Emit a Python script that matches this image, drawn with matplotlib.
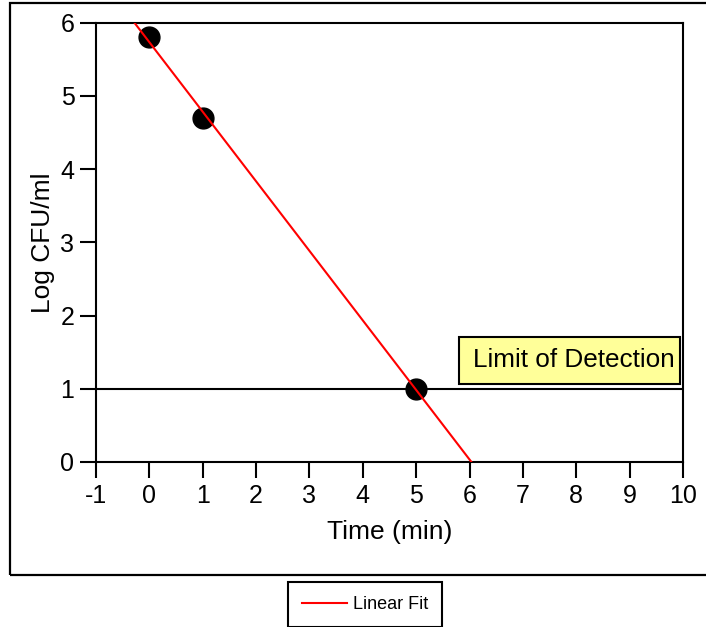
import matplotlib.pyplot as plt
import numpy as np
from matplotlib.patches import Rectangle

plt.rcParams['font.family'] = ['Liberation Sans', 'DejaVu Sans']
plt.rcParams['axes.unicode_minus'] = False

time = [0, 1, 5]
log_cfu = [5.8, 4.7, 1.0]
detection_limit = 1.0
x_ticks = list(range(-1, 11))
y_ticks = list(range(0, 7))

fig = plt.figure(figsize=(7.06, 6.27), dpi=100)
ax = fig.add_axes([0.136, 0.2632, 0.8314, 0.7006])

# outer frame
fig.patches.append(Rectangle((10 / 706, 1 - 575 / 627), 0.99, (575 - 3) / 627,
                             transform=fig.transFigure, fill=False,
                             edgecolor='black', linewidth=1.6, zorder=0))

ax.plot(time, log_cfu, 'o', color='black', markersize=15, zorder=3)

slope, intercept = np.polyfit(time, log_cfu, 1)
xfit = np.array([-1, 10])
fit_line, = ax.plot(xfit, slope * xfit + intercept, color='red', linewidth=1.5,
                    zorder=4, label='Linear Fit')

ax.axhline(detection_limit, color='black', linewidth=1.5, zorder=2)

ax.add_patch(Rectangle((5.80, 1.066), 4.14, 0.644, facecolor='#ffff99',
                       edgecolor='black', linewidth=1.5, zorder=5))
ax.text(6.065, 1.387, 'Limit of Detection', fontsize=18.8, ha='left',
        va='center', zorder=6)

ax.set_xlim(-1, 10)
ax.set_ylim(0, 6)
ax.set_xticks(x_ticks)
ax.set_yticks(y_ticks)
ax.tick_params(direction='out', length=11.5, width=1.5, labelsize=18, pad=4)
for s in ax.spines.values():
    s.set_linewidth(1.5)

ax.set_xlabel('Time (min)', fontsize=19, labelpad=9)
ax.set_ylabel('Log CFU/ml', fontsize=19, labelpad=4)

fig.legend(handles=[fit_line], loc='center', bbox_to_anchor=(365 / 706, 1 - 604.5 / 627),
           fontsize=13, frameon=True, fancybox=False, edgecolor='black',
           framealpha=1, handlelength=2.5, handletextpad=0.35, borderpad=0.77)
fig.legends[0].get_frame().set_linewidth(1.5)

fig.savefig('out.png', dpi=100)
